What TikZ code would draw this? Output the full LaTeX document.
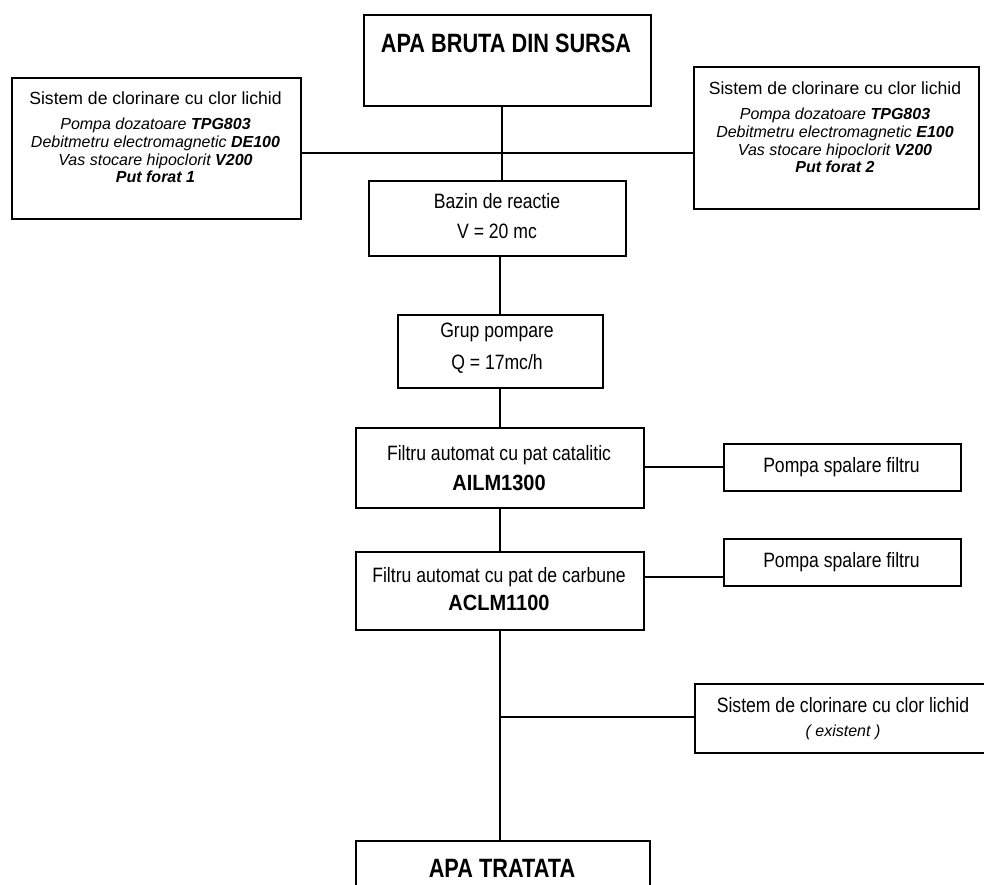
\documentclass[tikz,border=0pt]{standalone}
\usepackage{fontspec}
\setmainfont{Liberation Sans}
\usepackage{graphicx}
\begin{document}
\tikzset{
  box/.style={draw=black, line width=1.7pt, rectangle, inner sep=0pt, anchor=north west, fill=white},
  conn/.style={draw=black, line width=1.7pt},
  txt/.style={inner sep=0pt, anchor=base, font=\fontsize{17.6}{19}\selectfont},
  itx/.style={inner sep=0pt, anchor=base, font=\fontsize{16}{18}\selectfont\itshape},
  btx/.style={inner sep=0pt, anchor=base, font=\fontsize{20}{22}\selectfont\bfseries},
  ttl/.style={inner sep=0pt, anchor=base},
}
\newcommand{\titletext}[1]{\scalebox{0.82}[1]{\fontsize{26.5}{28}\selectfont\bfseries #1}}
\newcommand{\tallt}[1]{\scalebox{1}[1.18]{#1}}
\begin{tikzpicture}[x=1pt, y=-1pt]
\useasboundingbox (0,0) rectangle (984,885);
\fill[white] (0,0) rectangle (984,885);
% coordinates for connectors
\coordinate (sp) at (500,0);
\coordinate (sp2) at (502,0);
\coordinate (hl) at (0,153);
\coordinate (c1) at (0,467);
\coordinate (c2) at (0,577);
\coordinate (c3) at (0,717);
% boxes
\node[box, minimum width=287pt, minimum height=91pt] (T) at (363,14) {};
\node[box, minimum width=289pt, minimum height=141pt] (L) at (11,77) {};
\node[box, minimum width=285pt, minimum height=142pt] (R) at (693,66) {};
\node[box, minimum width=257pt, minimum height=75pt] (B) at (368,180) {};
\node[box, minimum width=205pt, minimum height=73pt] (G) at (397,314) {};
\node[box, minimum width=288pt, minimum height=80pt] (F1) at (355,427) {};
\node[box, minimum width=237pt, minimum height=47pt] (P1) at (723,443) {};
\node[box, minimum width=288pt, minimum height=78pt] (F2) at (355,551) {};
\node[box, minimum width=237pt, minimum height=47pt] (P2) at (723,538) {};
\node[box, minimum width=298pt, minimum height=69pt] (S) at (694,683) {};
\node[box, minimum width=294pt, minimum height=70pt] (A) at (355,840) {};
% connectors
\draw[conn] (T.south -| sp2) -- (B.north -| sp2);
\draw[conn] (L.east |- hl) -- (R.west |- hl);
\draw[conn] (B.south -| sp) -- (G.north -| sp);
\draw[conn] (G.south -| sp) -- (F1.north -| sp);
\draw[conn] (F1.south -| sp) -- (F2.north -| sp);
\draw[conn] (F2.south -| sp) -- (A.north -| sp);
\draw[conn] (F1.east |- c1) -- (P1.west |- c1);
\draw[conn] (F2.east |- c2) -- (P2.west |- c2);
\draw[conn] (sp |- c3) -- (S.west |- c3);
% texts
\node[ttl] (Tt) at (506,52.5) {\titletext{APA BRUTA DIN SURSA}};
\node[txt] (L1) at (155.5,105) {Sistem de clorinare cu clor lichid};
\node[itx] (L2) at (155.5,130) {Pompa dozatoare \textbf{TPG803}};
\node[itx] (L3) at (155.5,148) {Debitmetru electromagnetic \textbf{DE100}};
\node[itx] (L4) at (155.5,165.5) {Vas stocare hipoclorit \textbf{V200}};
\node[itx] (L5) at (155.5,183) {\bfseries Put forat 1};
\node[txt] (R1) at (835,95) {Sistem de clorinare cu clor lichid};
\node[itx] (R2) at (835,120) {Pompa dozatoare \textbf{TPG803}};
\node[itx] (R3) at (835,138) {Debitmetru electromagnetic \textbf{E100}};
\node[itx] (R4) at (835,155.5) {Vas stocare hipoclorit \textbf{V200}};
\node[itx] (R5) at (835,173) {\bfseries Put forat 2};
\node[txt] (B1) at (497,209) {\tallt{Bazin de reactie}};
\node[txt] (B2) at (497,238) {\tallt{V = 20 mc}};
\node[txt] (G1) at (497,337) {\tallt{Grup pompare}};
\node[txt] (G2) at (497,369) {\tallt{Q = 17mc/h}};
\node[txt] (F1a) at (499,460) {\tallt{Filtru automat cu pat catalitic}};
\node[btx] (F1b) at (499,490) {\scalebox{1}[1.1]{AILM1300}};
\node[txt] (F2a) at (499,582) {\tallt{Filtru automat cu pat de carbune}};
\node[btx] (F2b) at (499,610.5) {\scalebox{1}[1.1]{ACLM1100}};
\node[txt] (P1t) at (841.5,472) {\tallt{Pompa spalare filtru}};
\node[txt] (P2t) at (841.5,567) {\tallt{Pompa spalare filtru}};
\node[txt] (S1) at (843,712) {\tallt{Sistem de clorinare cu clor lichid}};
\node[itx] (S2) at (843,736) {( existent )};
\node[ttl] (At) at (502,877.5) {\titletext{APA TRATATA}};
\end{tikzpicture}
\end{document}
